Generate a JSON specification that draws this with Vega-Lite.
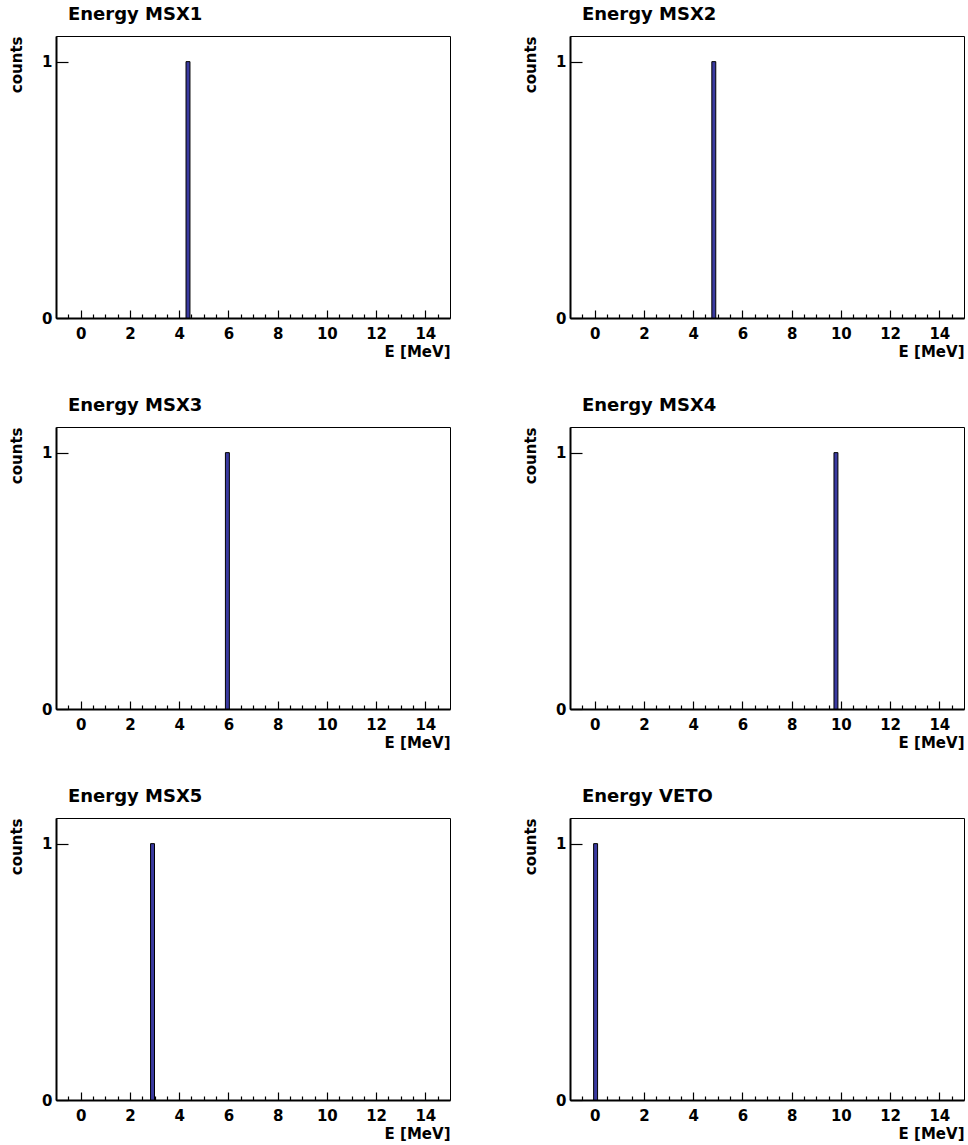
{
  "$schema": "https://vega.github.io/schema/vega-lite/v6.json",
  "padding": {"left": 9, "top": 5, "right": 0, "bottom": 0},
  "background": "white",
  "datasets": {
    "h": [
      {"det": "MSX1", "e0": 4.28, "e1": 4.44, "c": 1},
      {"det": "MSX2", "e0": 4.76, "e1": 4.92, "c": 1},
      {"det": "MSX3", "e0": 5.88, "e1": 6.04, "c": 1},
      {"det": "MSX4", "e0": 9.72, "e1": 9.88, "c": 1},
      {"det": "MSX5", "e0": 2.84, "e1": 3.0, "c": 1},
      {"det": "VETO", "e0": -0.04, "e1": 0.12, "c": 1}
    ]
  },
  "config": {
    "font": "DejaVu Sans",
    "view": {"stroke": "black", "strokeWidth": 1},
    "axis": {
      "labelFont": "DejaVu Sans", "labelFontWeight": "bold", "labelFontSize": 15, "labelColor": "black",
      "titleFont": "DejaVu Sans", "titleFontWeight": "bold", "titleFontSize": 15, "titleColor": "black",
      "domainColor": "black", "domainWidth": 2, "tickColor": "black", "tickWidth": 1.2, "grid": false,
      "labelOverlap": false, "labelFlush": false
    },
    "title": {"font": "DejaVu Sans", "fontSize": 18, "fontWeight": "bold", "color": "black", "anchor": "start", "frame": "group", "dx": 12, "baseline": "alphabetic", "offset": 12}
  },
  "columns": 2,
  "bounds": "flush",
  "spacing": {"row": 109, "column": 120},
  "concat": [
    {"title": "Energy MSX1", "width": 394, "height": 282, "data": {"name": "h"}, "transform": [{"filter": "datum.det === 'MSX1'"}],
     "mark": {"type": "rect", "fill": "#3a3aa0", "stroke": "black", "strokeWidth": 1},
     "encoding": {
       "x": {"field": "e0", "type": "quantitative", "scale": {"domain": [-1, 15]}, "axis": {"values": [-0.5,0,0.5,1,1.5,2,2.5,3,3.5,4,4.5,5,5.5,6,6.5,7,7.5,8,8.5,9,9.5,10,10.5,11,11.5,12,12.5,13,13.5,14,14.5], "tickSize": {"condition": {"test": "datum.value % 2 === 0", "value": -8}, "value": -4}, "labelExpr": "datum.value % 2 === 0 ? '' + datum.value : ''", "labelPadding": 16, "title": "E [MeV]", "titleAnchor": "end", "titlePadding": -1}},
       "x2": {"field": "e1"},
       "y": {"field": "c", "type": "quantitative", "scale": {"domain": [0, 1.1]}, "axis": {"values": [0, 1], "labelExpr": "'' + datum.value", "tickSize": -12, "labelPadding": 16, "title": "counts", "titleAnchor": "end", "titlePadding": 17}},
       "y2": {"datum": 0}
     }},
    {"title": "Energy MSX2", "width": 394, "height": 282, "data": {"name": "h"}, "transform": [{"filter": "datum.det === 'MSX2'"}],
     "mark": {"type": "rect", "fill": "#3a3aa0", "stroke": "black", "strokeWidth": 1},
     "encoding": {
       "x": {"field": "e0", "type": "quantitative", "scale": {"domain": [-1, 15]}, "axis": {"values": [-0.5,0,0.5,1,1.5,2,2.5,3,3.5,4,4.5,5,5.5,6,6.5,7,7.5,8,8.5,9,9.5,10,10.5,11,11.5,12,12.5,13,13.5,14,14.5], "tickSize": {"condition": {"test": "datum.value % 2 === 0", "value": -8}, "value": -4}, "labelExpr": "datum.value % 2 === 0 ? '' + datum.value : ''", "labelPadding": 16, "title": "E [MeV]", "titleAnchor": "end", "titlePadding": -1}},
       "x2": {"field": "e1"},
       "y": {"field": "c", "type": "quantitative", "scale": {"domain": [0, 1.1]}, "axis": {"values": [0, 1], "labelExpr": "'' + datum.value", "tickSize": -12, "labelPadding": 16, "title": "counts", "titleAnchor": "end", "titlePadding": 17}},
       "y2": {"datum": 0}
     }},
    {"title": "Energy MSX3", "width": 394, "height": 282, "data": {"name": "h"}, "transform": [{"filter": "datum.det === 'MSX3'"}],
     "mark": {"type": "rect", "fill": "#3a3aa0", "stroke": "black", "strokeWidth": 1},
     "encoding": {
       "x": {"field": "e0", "type": "quantitative", "scale": {"domain": [-1, 15]}, "axis": {"values": [-0.5,0,0.5,1,1.5,2,2.5,3,3.5,4,4.5,5,5.5,6,6.5,7,7.5,8,8.5,9,9.5,10,10.5,11,11.5,12,12.5,13,13.5,14,14.5], "tickSize": {"condition": {"test": "datum.value % 2 === 0", "value": -8}, "value": -4}, "labelExpr": "datum.value % 2 === 0 ? '' + datum.value : ''", "labelPadding": 16, "title": "E [MeV]", "titleAnchor": "end", "titlePadding": -1}},
       "x2": {"field": "e1"},
       "y": {"field": "c", "type": "quantitative", "scale": {"domain": [0, 1.1]}, "axis": {"values": [0, 1], "labelExpr": "'' + datum.value", "tickSize": -12, "labelPadding": 16, "title": "counts", "titleAnchor": "end", "titlePadding": 17}},
       "y2": {"datum": 0}
     }},
    {"title": "Energy MSX4", "width": 394, "height": 282, "data": {"name": "h"}, "transform": [{"filter": "datum.det === 'MSX4'"}],
     "mark": {"type": "rect", "fill": "#3a3aa0", "stroke": "black", "strokeWidth": 1},
     "encoding": {
       "x": {"field": "e0", "type": "quantitative", "scale": {"domain": [-1, 15]}, "axis": {"values": [-0.5,0,0.5,1,1.5,2,2.5,3,3.5,4,4.5,5,5.5,6,6.5,7,7.5,8,8.5,9,9.5,10,10.5,11,11.5,12,12.5,13,13.5,14,14.5], "tickSize": {"condition": {"test": "datum.value % 2 === 0", "value": -8}, "value": -4}, "labelExpr": "datum.value % 2 === 0 ? '' + datum.value : ''", "labelPadding": 16, "title": "E [MeV]", "titleAnchor": "end", "titlePadding": -1}},
       "x2": {"field": "e1"},
       "y": {"field": "c", "type": "quantitative", "scale": {"domain": [0, 1.1]}, "axis": {"values": [0, 1], "labelExpr": "'' + datum.value", "tickSize": -12, "labelPadding": 16, "title": "counts", "titleAnchor": "end", "titlePadding": 17}},
       "y2": {"datum": 0}
     }},
    {"title": "Energy MSX5", "width": 394, "height": 282, "data": {"name": "h"}, "transform": [{"filter": "datum.det === 'MSX5'"}],
     "mark": {"type": "rect", "fill": "#3a3aa0", "stroke": "black", "strokeWidth": 1},
     "encoding": {
       "x": {"field": "e0", "type": "quantitative", "scale": {"domain": [-1, 15]}, "axis": {"values": [-0.5,0,0.5,1,1.5,2,2.5,3,3.5,4,4.5,5,5.5,6,6.5,7,7.5,8,8.5,9,9.5,10,10.5,11,11.5,12,12.5,13,13.5,14,14.5], "tickSize": {"condition": {"test": "datum.value % 2 === 0", "value": -8}, "value": -4}, "labelExpr": "datum.value % 2 === 0 ? '' + datum.value : ''", "labelPadding": 16, "title": "E [MeV]", "titleAnchor": "end", "titlePadding": -1}},
       "x2": {"field": "e1"},
       "y": {"field": "c", "type": "quantitative", "scale": {"domain": [0, 1.1]}, "axis": {"values": [0, 1], "labelExpr": "'' + datum.value", "tickSize": -12, "labelPadding": 16, "title": "counts", "titleAnchor": "end", "titlePadding": 17}},
       "y2": {"datum": 0}
     }},
    {"title": "Energy VETO", "width": 394, "height": 282, "data": {"name": "h"}, "transform": [{"filter": "datum.det === 'VETO'"}],
     "mark": {"type": "rect", "fill": "#3a3aa0", "stroke": "black", "strokeWidth": 1},
     "encoding": {
       "x": {"field": "e0", "type": "quantitative", "scale": {"domain": [-1, 15]}, "axis": {"values": [-0.5,0,0.5,1,1.5,2,2.5,3,3.5,4,4.5,5,5.5,6,6.5,7,7.5,8,8.5,9,9.5,10,10.5,11,11.5,12,12.5,13,13.5,14,14.5], "tickSize": {"condition": {"test": "datum.value % 2 === 0", "value": -8}, "value": -4}, "labelExpr": "datum.value % 2 === 0 ? '' + datum.value : ''", "labelPadding": 16, "title": "E [MeV]", "titleAnchor": "end", "titlePadding": -1}},
       "x2": {"field": "e1"},
       "y": {"field": "c", "type": "quantitative", "scale": {"domain": [0, 1.1]}, "axis": {"values": [0, 1], "labelExpr": "'' + datum.value", "tickSize": -12, "labelPadding": 16, "title": "counts", "titleAnchor": "end", "titlePadding": 17}},
       "y2": {"datum": 0}
     }}
  ]
}
